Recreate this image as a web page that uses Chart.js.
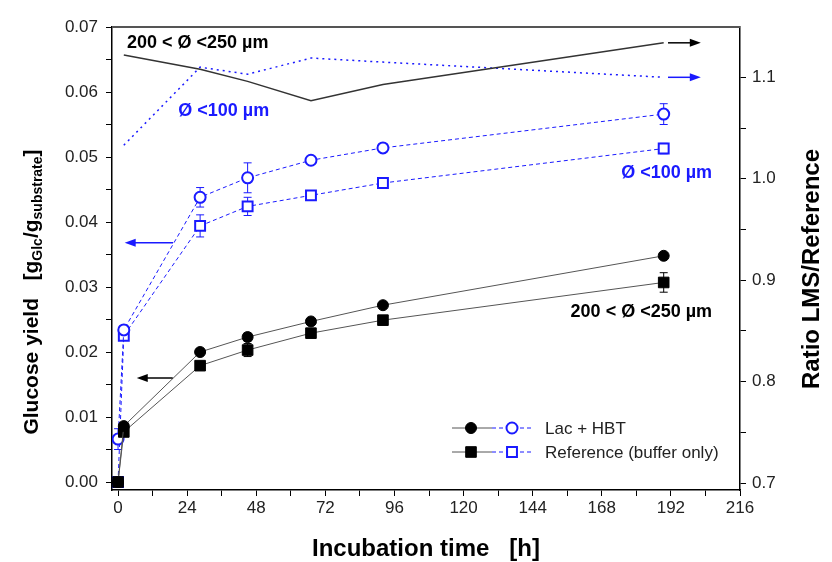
<!DOCTYPE html>
<html lang="en">
<head>
<meta charset="UTF-8">
<title>Glucose yield</title>
<script src="https://cdn.jsdelivr.net/npm/chart.js@4.4.0/dist/chart.umd.min.js"></script>
<style>
  body { margin: 0; background: #fff; }
  #wrap { width: 832px; height: 562px; }
</style>
</head>
<body>
<div id="wrap"><canvas id="myChart" width="832" height="562"></canvas></div>
<script>
// incubation time [h]
const times = [0, 2, 28.5, 45, 67, 92, 189.5];

// glucose yield, 200 < d < 250 um (black)
const lacCoarse = [0, 0.0086, 0.0200, 0.0223, 0.0247, 0.0272, 0.0348];
const lacCoarseErr = [0, 0.0005, 0.0005, 0.0006, 0.0004, 0.0004, 0.0005];
const refCoarse = [0, 0.0077, 0.0179, 0.0203, 0.0229, 0.0249, 0.0307];
const refCoarseErr = [0, 0.0005, 0.0004, 0.0010, 0.0004, 0.0004, 0.0015];

// glucose yield, d < 100 um (blue)
const lacFine = [0.0066, 0.0234, 0.0438, 0.0468, 0.0495, 0.0514, 0.0566];
const lacFineErr = [0.0016, 0.0005, 0.0015, 0.0023, 0.0004, 0.0004, 0.0016];
const refFine = [0, 0.0225, 0.0394, 0.0424, 0.0441, 0.0460, 0.0513];
const refFineErr = [0, 0.0005, 0.0017, 0.0014, 0.0004, 0.0004, 0.0008];

// ratio LMS / reference (right axis)
const ratioCoarse = [null, 1.122, 1.108, 1.096, 1.077, 1.093, 1.134];
const ratioFine = [null, 1.033, 1.110, 1.103, 1.119, 1.115, 1.100];

// ticks
const xTicks = [0, 12, 24, 36, 48, 60, 72, 84, 96, 108, 120, 132, 144, 156, 168, 180, 192, 204, 216];
const yTicks = [0, 0.005, 0.01, 0.015, 0.02, 0.025, 0.03, 0.035, 0.04, 0.045, 0.05, 0.055, 0.06, 0.065, 0.07];
const y2Ticks = [0.7, 0.75, 0.8, 0.85, 0.9, 0.95, 1.0, 1.05, 1.1];

const legendLabels = ['Lac + HBT', 'Reference (buffer only)'];

const pts = (arr) => times.map((t, i) => ({ x: t, y: arr[i] })).filter(p => p.y !== null);

const BLUE = '#1a1aff';
const FONT = '"Liberation Sans", Arial, sans-serif';

// error bars, arrows, labels, titles, legend
const extras = {
    id: 'extras',
    beforeDatasetsDraw(chart) {
        const ctx = chart.ctx;
        const x = chart.scales.x, y = chart.scales.y;
        const sets = [
            [lacFine, lacFineErr, BLUE], [refFine, refFineErr, BLUE],
            [lacCoarse, lacCoarseErr, '#000'], [refCoarse, refCoarseErr, '#000']
        ];
        ctx.save();
        ctx.lineWidth = 1;
        sets.forEach(([vals, errs, col]) => {
            ctx.strokeStyle = col;
            vals.forEach((v, i) => {
                if (!errs[i]) return;
                const px = x.getPixelForValue(times[i]);
                const y1 = y.getPixelForValue(v - errs[i]);
                const y2 = y.getPixelForValue(v + errs[i]);
                ctx.beginPath();
                ctx.moveTo(px, y1); ctx.lineTo(px, y2);
                ctx.moveTo(px - 4, y1); ctx.lineTo(px + 4, y1);
                ctx.moveTo(px - 4, y2); ctx.lineTo(px + 4, y2);
                ctx.stroke();
            });
        });
        ctx.restore();
    },
    afterDraw(chart) {
        const ctx = chart.ctx;
        const a = chart.chartArea;
        const x = chart.scales.x, y = chart.scales.y, y2 = chart.scales.y2;
        ctx.save();

        // top frame
        ctx.strokeStyle = '#555';
        ctx.lineWidth = 2;
        ctx.beginPath();
        ctx.moveTo(a.left, a.top); ctx.lineTo(a.right, a.top);
        ctx.stroke();

        // arrows
        const arrow = (x1, x2, py, col) => {
            ctx.strokeStyle = col; ctx.fillStyle = col; ctx.lineWidth = 1.5;
            const dir = Math.sign(x2 - x1);
            ctx.beginPath(); ctx.moveTo(x1, py); ctx.lineTo(x2 - dir * 8, py); ctx.stroke();
            ctx.beginPath();
            ctx.moveTo(x2, py); ctx.lineTo(x2 - dir * 11, py - 4); ctx.lineTo(x2 - dir * 11, py + 4);
            ctx.closePath(); ctx.fill();
        };
        arrow(x.getPixelForValue(191), x.getPixelForValue(202.4), y2.getPixelForValue(1.134), '#000');
        arrow(x.getPixelForValue(191), x.getPixelForValue(202.4), y2.getPixelForValue(1.100), BLUE);
        arrow(x.getPixelForValue(19.1), x.getPixelForValue(2.3), y.getPixelForValue(0.0368), BLUE);
        arrow(x.getPixelForValue(19), x.getPixelForValue(6.5), y.getPixelForValue(0.016), '#000');

        // size labels
        ctx.font = 'bold 18px ' + FONT;
        ctx.textBaseline = 'middle';
        ctx.fillStyle = '#000';
        ctx.textAlign = 'left';
        ctx.fillText('200 < Ø <250 µm', x.getPixelForValue(3.1), y.getPixelForValue(0.0675));
        ctx.fillStyle = BLUE;
        ctx.fillText('Ø <100 µm', x.getPixelForValue(20.9), y.getPixelForValue(0.0570));
        ctx.textAlign = 'right';
        ctx.fillText('Ø <100 µm', x.getPixelForValue(206.3), y.getPixelForValue(0.0475));
        ctx.fillStyle = '#000';
        ctx.fillText('200 < Ø <250 µm', x.getPixelForValue(206.3), y.getPixelForValue(0.0262));

        // legend
        const styles = ['circle', 'rect'];
        legendLabels.forEach((lab, i) => {
            const ly = 428 + i * 24;
            ctx.setLineDash([]);
            ctx.strokeStyle = '#555'; ctx.lineWidth = 1;
            ctx.beginPath(); ctx.moveTo(452, ly); ctx.lineTo(492, ly); ctx.stroke();
            ctx.setLineDash([4, 3]);
            ctx.strokeStyle = BLUE;
            ctx.beginPath(); ctx.moveTo(492, ly); ctx.lineTo(533, ly); ctx.stroke();
            ctx.setLineDash([]);
            ctx.fillStyle = '#000'; ctx.strokeStyle = '#000'; ctx.lineWidth = 1;
            Chart.helpers.drawPoint(ctx, { pointStyle: styles[i], radius: i ? 7.5 : 5.5, rotation: 0, borderWidth: 1 }, 471, ly);
            ctx.fillStyle = '#fff'; ctx.strokeStyle = BLUE; ctx.lineWidth = 2;
            Chart.helpers.drawPoint(ctx, { pointStyle: styles[i], radius: i ? 7 : 5.5, rotation: 0, borderWidth: 2 }, 512, ly);
            ctx.fillStyle = '#222';
            ctx.font = '17px ' + FONT;
            ctx.textAlign = 'left';
            ctx.fillText(lab, 545, ly + 1);
        });

        // axis titles
        ctx.fillStyle = '#000';
        ctx.font = 'bold 24px ' + FONT;
        ctx.textAlign = 'center';
        ctx.fillText('Incubation time   [h]', (a.left + a.right) / 2, 549);

        ctx.save();
        ctx.translate(812, 269);
        ctx.rotate(-Math.PI / 2);
        ctx.fillText('Ratio LMS/Reference', 0, 0);
        ctx.restore();

        // left title with subscripts
        const parts = [
            ['Glucose yield   [g', 0], ['Glc', 1], ['/g', 0], ['substrate', 1], [']', 0]
        ];
        const fMain = 'bold 21px ' + FONT, fSub = 'bold 14px ' + FONT;
        let total = 0;
        parts.forEach(([t, s]) => { ctx.font = s ? fSub : fMain; total += ctx.measureText(t).width; });
        ctx.save();
        ctx.translate(30, 292);
        ctx.rotate(-Math.PI / 2);
        ctx.textAlign = 'left';
        ctx.textBaseline = 'alphabetic';
        let cx = -total / 2;
        parts.forEach(([t, s]) => {
            ctx.font = s ? fSub : fMain;
            ctx.fillText(t, cx, s ? 12 : 8);
            cx += ctx.measureText(t).width;
        });
        ctx.restore();

        ctx.restore();
    }
};

const tickFont = { family: FONT, size: 17 };

const ctx = document.getElementById('myChart').getContext('2d');
const myChart = new Chart(ctx, {
    type: 'line',
    data: {
        datasets: [
            {
                data: pts(lacCoarse), yAxisID: 'y',
                borderColor: '#555', borderWidth: 1,
                pointStyle: 'circle', pointRadius: 5.5,
                pointBackgroundColor: '#000', pointBorderColor: '#000'
            },
            {
                data: pts(refCoarse), yAxisID: 'y',
                borderColor: '#555', borderWidth: 1,
                pointStyle: 'rect', pointRadius: 7.5,
                pointBackgroundColor: '#000', pointBorderColor: '#000'
            },
            {
                data: pts(lacFine), yAxisID: 'y',
                borderColor: BLUE, borderWidth: 1, borderDash: [4, 3],
                pointStyle: 'circle', pointRadius: 5.5, pointBorderWidth: 2,
                pointBackgroundColor: '#fff', pointBorderColor: BLUE
            },
            {
                data: pts(refFine), yAxisID: 'y',
                borderColor: BLUE, borderWidth: 1, borderDash: [4, 3],
                pointStyle: 'rect', pointRadius: 7, pointBorderWidth: 2,
                pointBackgroundColor: '#fff', pointBorderColor: BLUE
            },
            {
                data: pts(ratioCoarse), yAxisID: 'y2',
                borderColor: '#333', borderWidth: 1.5, pointRadius: 0
            },
            {
                data: pts(ratioFine), yAxisID: 'y2',
                borderColor: BLUE, borderWidth: 1.5, borderDash: [2, 4], pointRadius: 0
            }
        ]
    },
    options: {
        responsive: false,
        animation: false,
        layout: { padding: { top: 27 } },
        plugins: { legend: { display: false }, tooltip: { enabled: false } },
        scales: {
            x: {
                type: 'linear', min: -2.1, max: 216,
                afterBuildTicks: s => { s.ticks = xTicks.map(v => ({ value: v })); },
                afterFit: s => { s.height = 72; },
                ticks: {
                    autoSkip: false, maxRotation: 0, padding: 2,
                    font: tickFont, color: '#222',
                    callback: v => (v % 24 === 0 ? String(v) : '')
                },
                grid: { drawOnChartArea: false, tickLength: 6, color: '#000' },
                border: { color: '#000', width: 1.5 }
            },
            y: {
                position: 'left', min: -0.00123, max: 0.07,
                afterBuildTicks: s => { s.ticks = yTicks.map(v => ({ value: v })); },
                afterFit: s => { s.width = 112; },
                ticks: {
                    autoSkip: false, padding: 8,
                    font: tickFont, color: '#222',
                    callback: (v, i) => (i % 2 === 0 ? v.toFixed(2) : '')
                },
                grid: { drawOnChartArea: false, tickLength: 6, color: '#000' },
                border: { color: '#000', width: 1.5 }
            },
            y2: {
                position: 'right', min: 0.6931, max: 1.1496,
                afterBuildTicks: s => { s.ticks = y2Ticks.map(v => ({ value: v })); },
                afterFit: s => { s.width = 92; },
                ticks: {
                    autoSkip: false, padding: 6,
                    font: tickFont, color: '#222',
                    callback: (v, i) => (i % 2 === 0 ? v.toFixed(1) : '')
                },
                grid: { drawOnChartArea: false, tickLength: 6, color: '#000' },
                border: { color: '#000', width: 1.5 }
            }
        }
    },
    plugins: [extras]
});
</script>
</body>
</html>
